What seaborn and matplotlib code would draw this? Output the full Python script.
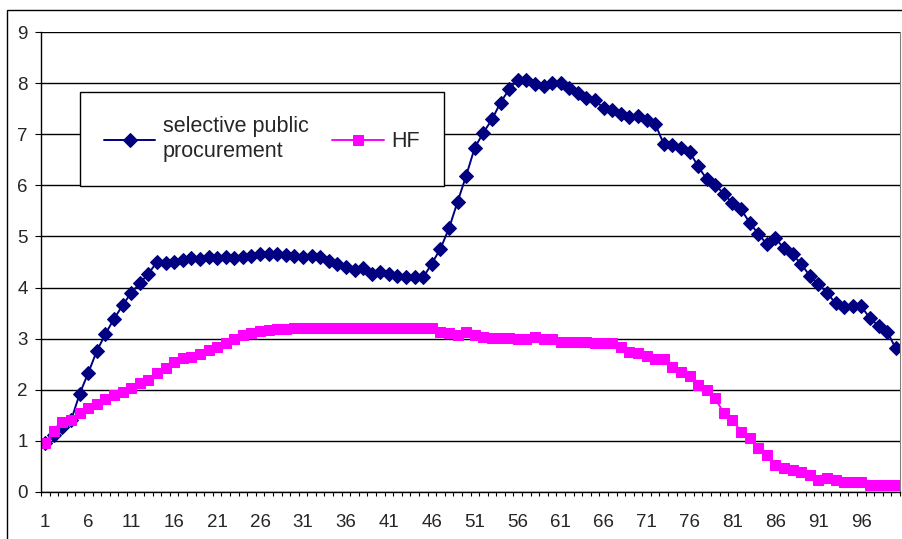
import numpy as np
import pandas as pd
import matplotlib
matplotlib.use("Agg")
import matplotlib.pyplot as plt
from matplotlib.patches import Rectangle
import seaborn as sns

# data
periods = list(range(1, 101))

selective = [
    0.95, 1.12, 1.28, 1.40, 1.92, 2.33, 2.76, 3.09, 3.39, 3.65,
    3.90, 4.08, 4.27, 4.50, 4.48, 4.50, 4.54, 4.57, 4.56, 4.60,
    4.57, 4.60, 4.57, 4.60, 4.62, 4.65, 4.65, 4.65, 4.63, 4.62,
    4.59, 4.62, 4.59, 4.51, 4.47, 4.41, 4.34, 4.39, 4.27, 4.31,
    4.27, 4.23, 4.20, 4.20, 4.20, 4.47, 4.76, 5.16, 5.68, 6.19,
    6.74, 7.03, 7.29, 7.62, 7.88, 8.07, 8.07, 7.98, 7.95, 8.00,
    8.00, 7.90, 7.81, 7.70, 7.66, 7.51, 7.48, 7.40, 7.33, 7.35,
    7.28, 7.20, 6.81, 6.79, 6.74, 6.66, 6.37, 6.12, 6.01, 5.83,
    5.65, 5.53, 5.27, 5.05, 4.85, 4.96, 4.77, 4.65, 4.46, 4.23,
    4.07, 3.90, 3.69, 3.61, 3.64, 3.63, 3.40, 3.25, 3.14, 2.81,
]

hf = [
    0.95, 1.20, 1.36, 1.41, 1.54, 1.64, 1.72, 1.81, 1.90, 1.96,
    2.04, 2.13, 2.20, 2.32, 2.42, 2.55, 2.62, 2.65, 2.70, 2.78,
    2.84, 2.91, 2.99, 3.07, 3.12, 3.15, 3.17, 3.18, 3.18, 3.20,
    3.20, 3.21, 3.21, 3.21, 3.21, 3.21, 3.21, 3.21, 3.21, 3.21,
    3.21, 3.21, 3.21, 3.21, 3.20, 3.20, 3.14, 3.12, 3.08, 3.14,
    3.08, 3.04, 3.02, 3.02, 3.02, 2.99, 3.00, 3.04, 2.99, 2.99,
    2.94, 2.94, 2.94, 2.94, 2.91, 2.91, 2.91, 2.84, 2.74, 2.71,
    2.66, 2.60, 2.60, 2.45, 2.35, 2.26, 2.09, 2.00, 1.83, 1.54,
    1.41, 1.18, 1.05, 0.86, 0.72, 0.53, 0.46, 0.43, 0.40, 0.33,
    0.23, 0.27, 0.23, 0.20, 0.20, 0.20, 0.14, 0.14, 0.14, 0.14,
]

tick_labels = [str(v) for v in range(1, 97, 5)]

sns.set_style("white")
plt.rcParams['font.family'] = ['Liberation Sans', 'DejaVu Sans']

fig = plt.figure(figsize=(9.02, 5.39), dpi=100)
ax = fig.add_axes([41 / 902, 1 - 492 / 539, 859 / 902, 460 / 539])

sns.lineplot(x=periods, y=selective, ax=ax, color="#000080", marker="D",
             markersize=6.8, markeredgecolor="#000080", linewidth=1.4,
             label="selective public\nprocurement")
sns.lineplot(x=periods, y=hf, ax=ax, color="#FF00FF", marker="s",
             markersize=7.2, markeredgecolor="#FF00FF", linewidth=1.4,
             label="HF")

ax.set_xlim(0.5, 100.5)
ax.set_ylim(0, 9)
ax.set_yticks(range(0, 10))
ax.set_yticklabels([str(v) for v in range(0, 10)])
ax.grid(axis="y", color="black", linewidth=1)
ax.set_axisbelow(True)

ax.set_xticks(range(1, 97, 5))
ax.set_xticklabels(tick_labels)
ax.set_xticks(np.arange(0.5, 101, 1), minor=True)
ax.tick_params(axis="x", which="major", length=0, labelsize=13.5, pad=16)
ax.tick_params(axis="x", which="minor", length=3, width=0.8, color="black", direction="out", bottom=True)
ax.tick_params(axis="y", length=4.5, width=0.8, color="black", direction="out", left=True, labelsize=13.5, pad=5)

for side in ["left", "bottom"]:
    ax.spines[side].set_color("black")
    ax.spines[side].set_linewidth(1)
ax.spines["top"].set_visible(False)
ax.spines["right"].set_color("#808080")

ax.set_xlabel("")
ax.set_ylabel("")

leg = ax.legend(loc="upper left", bbox_to_anchor=((80 - 41) / 859, (492 - 92) / 460),
                ncol=2, fontsize=15.5, frameon=True, fancybox=False, shadow=False,
                handlelength=2.4, handletextpad=0.35, columnspacing=1.1,
                borderpad=1.1, borderaxespad=0)
leg.get_frame().set_edgecolor("black")
leg.get_frame().set_linewidth(1)
leg.get_frame().set_alpha(1)
for t in leg.get_texts():
    t.set_linespacing(1.3)

# outer chart border
fig.patches.append(Rectangle((7 / 902, -0.1), 1.2, 1 - 10 / 539 + 0.1,
                             transform=fig.transFigure, fill=False,
                             edgecolor="black", linewidth=1))

plt.savefig("out.png", dpi=100)
